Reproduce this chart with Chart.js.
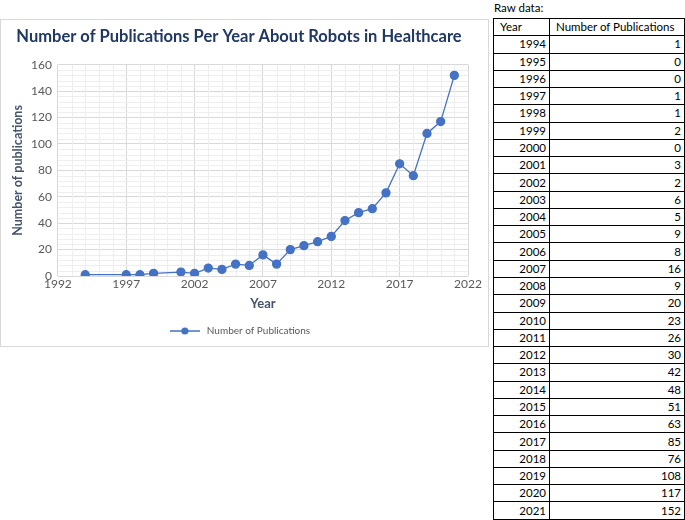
<!DOCTYPE html>
<html>
<head>
<meta charset="utf-8">
<script src="https://cdn.jsdelivr.net/npm/chart.js@4.4.1/dist/chart.umd.min.js"></script>
<style>
  html, body { margin: 0; padding: 0; background: #fff; }
  body { width: 685px; height: 520px; position: relative; overflow: hidden; font-family: Lato, "Noto Sans", sans-serif; }
  #box { position: absolute; left: 0; top: 19px; width: 487px; height: 326px; border: 1px solid #d9d9d9; }
  #box canvas { display: block; }
  #raw { position: absolute; left: 494px; top: 1px; font-size: 11.5px; color: #000; }
  table { position: absolute; left: 493px; top: 18px; width: 192px; height: 501px; table-layout: fixed; border-collapse: collapse; font-size: 11.5px; font-family: Lato, "Noto Sans", sans-serif; }
  tr { height: 17.28px; }
  td { border: 1px solid #000; padding: 0 3px; line-height: 14px; white-space: nowrap; overflow: hidden; box-sizing: border-box; }
  col.y { width: 56px; }
  col.n { width: 135px; }
  td { text-align: right; }
  tr.h td { text-align: left; padding-left: 6px; }
</style>
</head>
<body>
<div id="raw">Raw data:</div>
<table id="tbl"><colgroup><col class="y"><col class="n"></colgroup><tbody id="tb"></tbody></table>
<div id="box"><canvas id="c" width="487" height="326"></canvas></div>
<script>
// Raw data table
const tableYears = [1994,1995,1996,1997,1998,1999,2000,2001,2002,2003,2004,2005,2006,2007,2008,2009,2010,2011,2012,2013,2014,2015,2016,2017,2018,2019,2020,2021];
const tableCounts = [1,0,0,1,1,2,0,3,2,6,5,9,8,16,9,20,23,26,30,42,48,51,63,85,76,108,117,152];
// Points plotted in the chart (zero years are not plotted in the reference)
const plotYears = [1994,1997,1998,1999,2001,2002,2003,2004,2005,2006,2007,2008,2009,2010,2011,2012,2013,2014,2015,2016,2017,2018,2019,2020,2021];
const plotCounts = [1,1,1,2,3,2,6,5,9,8,16,9,20,23,26,30,42,48,51,63,85,76,108,117,152];
const seriesName = "Number of Publications";
const chartTitle = "Number of Publications Per Year About Robots in Healthcare";
const xTitle = "Year";
const yTitle = "Number of publications";
const headers = ["Year", "Number of Publications"];

// build table
let html = '<tr class="h"><td>' + headers[0] + '</td><td>' + headers[1] + '</td></tr>';
tableYears.forEach((y, i) => {
  html += '<tr><td>' + y + '</td><td>' + tableCounts[i] + '</td></tr>';
});
document.getElementById('tb').innerHTML = html;

const blue = '#4472C4';

// legend icon: line with circle
const icon = document.createElement('canvas');
icon.width = 30; icon.height = 10;
(function(){
  const g = icon.getContext('2d');
  g.strokeStyle = blue; g.lineWidth = 1.5;
  g.beginPath(); g.moveTo(0, 5); g.lineTo(30, 5); g.stroke();
  g.fillStyle = blue; g.beginPath(); g.arc(15, 5, 3.6, 0, Math.PI * 2); g.fill();
})();

const minorGrid = {
  id: 'minorGrid',
  beforeDatasetsDraw(chart) {
    const { ctx, chartArea: a, scales: { x, y } } = chart;
    ctx.save();
    ctx.strokeStyle = '#eeeeee';
    ctx.lineWidth = 1;
    for (let v = x.min; v <= x.max; v += 1) {
      if ((v - x.min) % 5 === 0) continue;
      const px = Math.round(x.getPixelForValue(v)) + 0.5;
      ctx.beginPath(); ctx.moveTo(px, a.top); ctx.lineTo(px, a.bottom); ctx.stroke();
    }
    for (let v = y.min; v <= y.max; v += 4) {
      if (v % 20 === 0) continue;
      const py = Math.round(y.getPixelForValue(v)) + 0.5;
      ctx.beginPath(); ctx.moveTo(a.left, py); ctx.lineTo(a.right, py); ctx.stroke();
    }
    ctx.restore();
  }
};

new Chart(document.getElementById('c'), {
  type: 'line',
  data: {
    datasets: [{
      label: seriesName,
      data: plotYears.map((yr, i) => ({ x: yr, y: plotCounts[i] })),
      borderColor: blue,
      backgroundColor: blue,
      borderWidth: 1.3,
      pointRadius: 4,
      pointBackgroundColor: blue,
      pointBorderColor: blue,
      tension: 0
    }]
  },
  options: {
    responsive: false,
    animation: false,
    layout: { padding: { left: 9, right: 20, top: 5, bottom: 0 } },
    plugins: {
      title: {
        display: true, text: chartTitle,
        color: '#203864',
        font: { family: 'Lato', size: 16.5, weight: 'bold' },
        padding: { top: 2, bottom: 18 }
      },
      legend: {
        position: 'bottom',
        labels: {
          usePointStyle: true,
          pointStyle: icon,
          pointStyleWidth: 34,
          color: '#595959',
          font: { family: 'Lato', size: 10 },
          padding: 10
        }
      },
      tooltip: { enabled: false }
    },
    scales: {
      x: {
        type: 'linear', min: 1992, max: 2022,
        ticks: { stepSize: 5, color: '#595959', font: { family: 'Lato', size: 12 }, callback: v => String(v), padding: 1 },
        grid: { color: '#d9d9d9', drawTicks: false },
        border: { display: false },
        title: { display: true, text: xTitle, color: '#44546A', font: { family: 'Lato', size: 13, weight: 'bold' }, padding: { top: 4, bottom: 4 } }
      },
      y: {
        min: 0, max: 160,
        ticks: { stepSize: 20, color: '#595959', font: { family: 'Lato', size: 12 }, padding: 6 },
        grid: { color: '#d9d9d9', drawTicks: false },
        border: { display: false },
        title: { display: true, text: yTitle, color: '#44546A', font: { family: 'Lato', size: 12.5, weight: 'bold' }, padding: { top: 0, bottom: 0 } }
      }
    }
  },
  plugins: [minorGrid]
});
</script>
</body>
</html>
